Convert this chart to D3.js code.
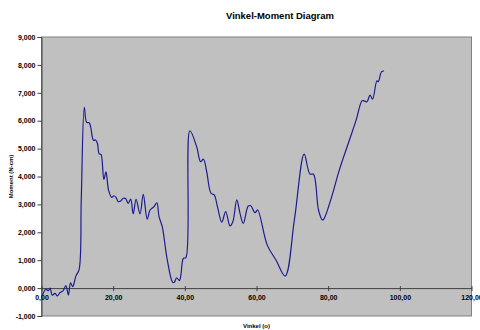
<!DOCTYPE html>
<html>
<head>
<meta charset="utf-8">
<script src="https://cdn.jsdelivr.net/npm/d3@7"></script>
<style>
  body { margin: 0; background: #fff; }
  text { font-family: "Liberation Sans", Arial, sans-serif; font-weight: bold; }
</style>
</head>
<body>
<div id="chart"></div>
<script>
// angle (degrees) and moment (thousands N-cm)
var vinkel = [0.3, 1.2, 1.9, 2.4, 3.0, 3.8, 4.4, 5.2, 6.0, 6.8, 7.5, 8.1, 8.7, 9.6, 10.5, 11.1, 11.95,
  12.6, 13.3, 13.7, 14.5, 15.1, 15.6, 16.1, 16.6, 17.4, 18.0, 18.7, 19.6, 20.2, 20.8, 21.4, 22.1, 22.8,
  23.5, 24.2, 24.9, 25.6, 26.4, 27.5, 28.4, 29.5, 30.3, 31.4, 32.2, 32.8, 33.7, 35.1, 36.6, 37.1,
  37.7, 38.5, 38.9, 39.6, 40.3, 41.4, 43.3, 44.4, 45.2, 46.1, 47.3, 48.2, 49.1, 50.3, 51.4, 52.6,
  53.4, 54.5, 55.4, 56.3, 57.7, 58.4, 59.6, 60.3, 63.0, 65.5, 68.0, 70.6, 73.3, 74.9, 75.9, 77.3, 78.4,
  78.9, 81.0, 83.1, 86.1, 87.8, 89.4, 89.8, 90.8, 91.7, 92.4, 93.6, 94.0, 94.9, 95.6];
var moment = [-0.25, -0.04, -0.09, 0.0, -0.25, -0.19, -0.28, -0.16, -0.1, 0.09, -0.25, 0.19, 0.05, 0.43, 0.67, 3.2, 6.48,
  5.94, 5.93, 5.79, 5.3, 5.31, 5.19, 4.81, 4.79, 3.9, 4.17, 3.52, 3.25, 3.31, 3.25, 3.1, 3.12, 3.22,
  3.2, 3.04, 3.19, 2.66, 3.18, 2.66, 3.36, 2.47, 2.8, 2.92, 3.06, 2.56, 2.2, 1.01, 0.21, 0.21,
  0.37, 0.27, 0.47, 1.07, 1.09, 5.64, 5.07, 4.53, 4.62, 4.17, 3.4, 3.34, 2.92, 2.36, 2.74, 2.23,
  2.38, 3.16, 2.68, 2.32, 2.94, 2.95, 2.7, 2.8, 1.54, 0.99, 0.43, 2.47, 4.8, 4.09, 4.08, 2.8, 2.44,
  2.5, 3.28, 4.23, 5.37, 6.02, 6.71, 6.72, 6.68, 6.92, 6.77, 7.43, 7.4, 7.76, 7.78];
var xTicks = [0, 20, 40, 60, 80, 100, 120];
var yTicks = [-1, 0, 1, 2, 3, 4, 5, 6, 7, 8, 9];

var width = 480, height = 330;
var margin = {top: 37, right: 8.5, bottom: 14, left: 41.5};

var svg = d3.select("#chart").append("svg")
  .attr("width", width)
  .attr("height", height);

var x = d3.scaleLinear().domain([0, 120]).range([margin.left, width - margin.right]);
var y = d3.scaleLinear().domain([-1, 9]).range([height - margin.bottom, margin.top]);

// plot area
svg.append("rect")
  .attr("x", x(0)).attr("y", y(9))
  .attr("width", x(120) - x(0)).attr("height", y(-1) - y(9))
  .attr("fill", "#c0c0c0")
  .attr("stroke", "#808080")
  .attr("stroke-width", 1);

// title
svg.append("text")
  .attr("x", 280).attr("y", 19)
  .attr("text-anchor", "middle")
  .attr("font-size", "9.5px")
  .text("Vinkel-Moment Diagram");

var comma = function(s) { return s.replace(".", ","); };

// y axis
var yAxis = svg.append("g")
  .attr("transform", "translate(" + x(0) + ",0)")
  .call(d3.axisLeft(y).tickValues(yTicks).tickSize(4).tickPadding(2)
    .tickFormat(function(d) { return comma(d3.format(".3f")(d)).replace("\u2212", "-"); }));
yAxis.selectAll("text").attr("font-size", "7px").attr("font-family", "Liberation Sans, Arial").attr("font-weight", "bold");
yAxis.selectAll("line, path").attr("stroke", "#404040");

// x axis at zero
var xAxis = svg.append("g")
  .attr("transform", "translate(0," + y(0) + ")")
  .call(d3.axisBottom(x).tickValues(xTicks).tickSizeInner(3).tickSizeOuter(0).tickPadding(4)
    .tickFormat(function(d) { return comma(d3.format(".2f")(d)); }));
xAxis.selectAll("text").attr("font-size", "7px").attr("font-family", "Liberation Sans, Arial").attr("font-weight", "bold");
xAxis.selectAll("line, path").attr("stroke", "#404040");
xAxis.selectAll(".tick line").attr("y1", -2);

// axis titles
svg.append("text")
  .attr("x", (x(0) + x(120)) / 2).attr("y", 328)
  .attr("text-anchor", "middle")
  .attr("font-size", "6px")
  .text("Vinkel (o)");

svg.append("text")
  .attr("transform", "translate(13," + (y(9) + y(-1)) / 2 + ") rotate(-90)")
  .attr("text-anchor", "middle")
  .attr("font-size", "6px")
  .text("Moment (N-cm)");

// data line
var line = d3.line()
  .x(function(d, i) { return x(vinkel[i]); })
  .y(function(d) { return y(d); })
  .curve(d3.curveCatmullRom.alpha(0.5));

svg.append("path")
  .datum(moment)
  .attr("d", line)
  .attr("fill", "none")
  .attr("stroke", "#1c1c90")
  .attr("stroke-width", 1.2);
</script>
</body>
</html>
